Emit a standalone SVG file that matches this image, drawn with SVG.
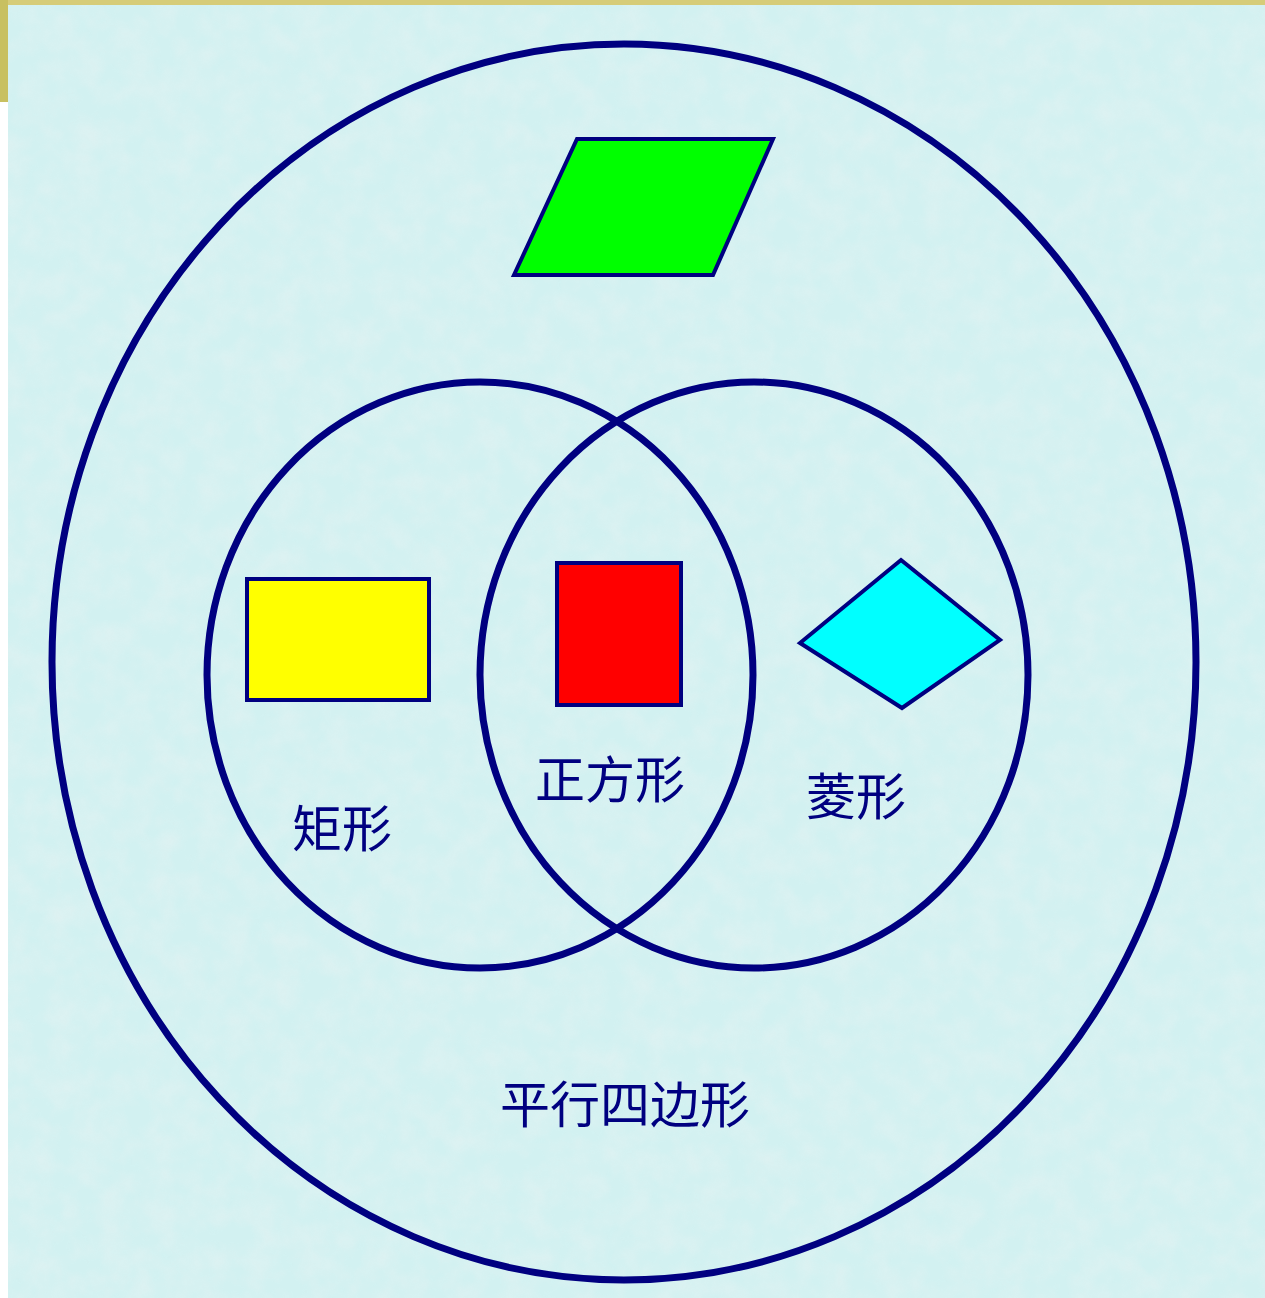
<svg xmlns="http://www.w3.org/2000/svg" width="1265" height="1298" viewBox="0 0 1265 1298">
<style>
.ring{fill:none;stroke:#000080;stroke-width:7}
.shape{stroke:#000080;stroke-width:4}
.lbl{font-family:"Noto Sans CJK SC","Noto Sans CJK JP",sans-serif;font-size:50px;fill:#000080;text-anchor:middle}
</style>
<defs>
<filter id="tex" x="0" y="0" width="100%" height="100%">
<feTurbulence type="fractalNoise" baseFrequency="0.04" numOctaves="3" seed="3" result="n"/>
<feColorMatrix in="n" type="matrix" values="0 0 0 0 0.78  0 0 0 0 0.89  0 0 0 0 0.89  0 0 0 -1.6 1.1"/>
</filter>
</defs>
<rect x="0" y="0" width="1265" height="1298" fill="#ffffff"/>
<rect x="0" y="0" width="1265" height="6" fill="#d6cc78"/>
<rect x="0" y="0" width="8" height="102" fill="#c8c060"/>
<rect x="8" y="5" width="1257" height="1293" fill="#d2f1f1"/>
<rect x="8" y="5" width="1257" height="1293" filter="url(#tex)" opacity="0.6"/>
<g id="parallelogram-ellipse"><ellipse class="ring" cx="624" cy="662" rx="572" ry="618"/></g>
<g id="rectangle-circle"><ellipse class="ring" cx="480" cy="675" rx="273" ry="293"/></g>
<g id="rhombus-circle"><ellipse class="ring" cx="754" cy="675" rx="274" ry="293"/></g>
<g id="green-parallelogram"><polygon class="shape" fill="#00ff00" points="577,139 773,139 713,275 514,275"/></g>
<g id="yellow-rectangle"><rect class="shape" fill="#ffff00" x="247" y="579" width="182" height="121"/></g>
<g id="red-square"><rect class="shape" fill="#ff0000" x="557" y="563" width="124" height="142"/></g>
<g id="cyan-rhombus"><polygon class="shape" fill="#00ffff" points="901,560 1000,640 902,708 800,643"/></g>
<g id="labels">
<text class="lbl" x="610" y="798">正方形</text>
<text class="lbl" x="856" y="815">菱形</text>
<text class="lbl" x="342" y="847">矩形</text>
<text class="lbl" x="625" y="1123">平行四边形</text>
</g>
</svg>
